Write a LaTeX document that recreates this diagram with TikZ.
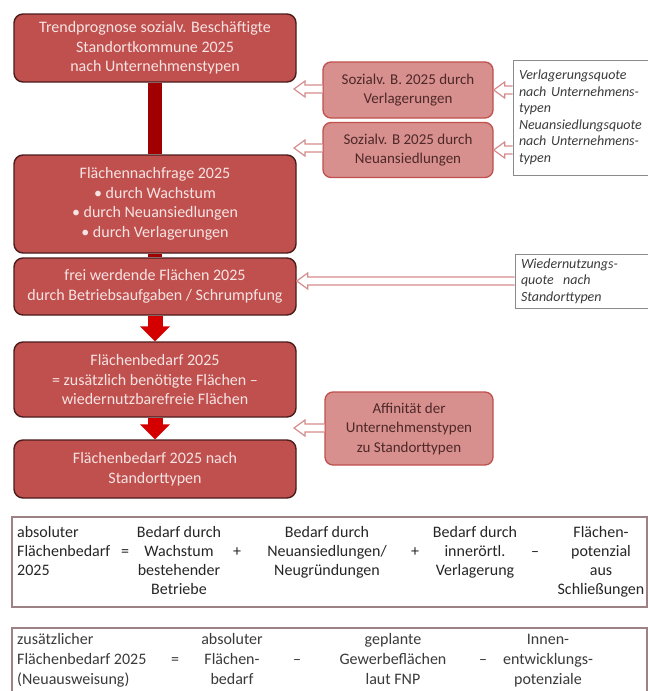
\documentclass[tikz,border=0pt]{standalone}
\usepackage{fontspec}
\setmainfont{Carlito}
\usetikzlibrary{arrows.meta,calc}
\definecolor{boxred}{HTML}{C0504D}
\definecolor{boxedge}{HTML}{4A1C1C}
\definecolor{boxtext}{HTML}{F6E4E4}
\definecolor{barred}{HTML}{A00000}
\definecolor{arrred}{HTML}{D40000}
\definecolor{sidefill}{HTML}{D7908E}
\definecolor{sideedge}{HTML}{C0504D}
\definecolor{sidetext}{HTML}{4E2828}
\definecolor{hollowc}{HTML}{D68C8C}
\definecolor{notegray}{HTML}{8A8A8A}
\definecolor{notetext}{HTML}{3C3C3C}
\definecolor{formedge}{HTML}{9C8284}
\definecolor{ftextc}{HTML}{262626}
\definecolor{ftextd}{HTML}{3A3A3A}
\newcommand\hollowarrow[2]{%
  \draw[hollowarr] let \p1=(#1), \p2=(#2) in
    (\x1,\y2+4pt) -- (\x2+11pt,\y2+4pt) -- (\x2+11pt,\y2+8pt) -- (\x2,\y2)
    -- (\x2+11pt,\y2-8pt) -- (\x2+11pt,\y2-4pt) -- (\x1,\y2-4pt);}
\begin{document}
\begin{tikzpicture}[x=1pt,y=-1pt,
  mainbox/.style={draw=boxedge, line width=1.4pt, fill=boxred, rounded corners=9pt,
    text=boxtext, align=center, minimum width=282pt, inner xsep=2pt,
    font=\fontsize{16}{19.5}\selectfont},
  sidebox/.style={draw=sideedge, line width=1.3pt, fill=sidefill, rounded corners=8pt,
    text=sidetext, align=center, minimum width=170pt, inner xsep=2pt,
    font=\fontsize{15}{19.5}\selectfont},
  notebox/.style={draw=notegray, line width=0.9pt, fill=white, text=notetext,
    align=left, inner xsep=6pt, font=\fontsize{14}{16.5}\selectfont\itshape},
  bar/.style={draw=barred, line width=14pt},
  redarrow/.style={draw=arrred, line width=15pt, -{Triangle[width=29pt,length=15pt]}},
  hollowarr/.style={draw=hollowc, fill=white, line width=1.2pt, line join=miter},
  formbox/.style={draw=formedge, line width=1.2pt, fill=white, inner sep=0pt},
  fA/.style={font=\fontsize{16}{19}\selectfont, text=ftextc, inner sep=0pt, align=center, anchor=north},
  fAl/.style={fA, align=left, anchor=north west},
  fAop/.style={font=\fontsize{16}{19}\selectfont, text=ftextc, inner sep=0pt, anchor=base},
  fB/.style={font=\fontsize{16}{20}\selectfont, text=ftextd, inner sep=0pt, align=center, anchor=north},
  fBl/.style={fB, align=left, anchor=north west},
  fBop/.style={font=\fontsize{16}{20}\selectfont, text=ftextd, inner sep=0pt, anchor=base}
]
\fill[white] (0,0) rectangle (648,691);
\useasboundingbox (0,0) rectangle (648,691);

% main column
\node[mainbox, minimum height=68pt] (box1) at (155,48)
  {Trendprognose sozialv. Beschäftigte\\Standortkommune 2025\\nach Unternehmenstypen};
\node[mainbox, minimum height=98pt] (box2) at (155,204)
  {Flächennachfrage 2025\\• durch Wachstum\\• durch Neuansiedlungen\\• durch Verlagerungen};
\node[mainbox, minimum height=57pt] (box3) at (155,286.5)
  {frei werdende Flächen 2025\\durch Betriebsaufgaben / Schrumpfung};
\node[mainbox, minimum height=75pt] (box4) at (155,379.5)
  {Flächenbedarf 2025\\= zusätzlich benötigte Flächen –\\wiedernutzbarefreie Flächen};
\node[mainbox, minimum height=58pt] (box5) at (155,469)
  {Flächenbedarf 2025 nach\\Standorttypen};

% side boxes
\node[sidebox, minimum height=56pt] (rbox1) at (408,90)
  {Sozialv. B. 2025 durch\\Verlagerungen};
\node[sidebox, minimum height=55pt] (rbox2) at (408,150)
  {Sozialv. B 2025 durch\\Neuansiedlungen};
\node[sidebox, minimum height=73pt, minimum width=168pt] (affin) at (409,428.5)
  {Affinität der\\Unternehmenstypen\\zu Standorttypen};

% notes
\node[notebox, text width=127pt, minimum height=115pt] (note1) at (582.5,117.5)
  {Verlagerungsquote\\nach Unternehmens-\\typen\\Neuansiedlungsquote\\nach Unternehmens-\\typen};
\node[notebox, text width=125pt, minimum height=54pt] (note2) at (583.5,281)
  {Wiedernutzungs-\\quote\ \ nach\\Standorttypen};

% free ends of hollow arrows
\coordinate (t1) at (294,89);
\coordinate (t2) at (294,148);
\coordinate (t3) at (294,428);

% connectors in main column
\draw[bar] (box1.south) -- (box2.north);
\draw[bar] (box2.south) -- (box3.north);
\draw[redarrow] (box3.south) -- (box4.north);
\draw[redarrow] (box4.south) -- (box5.north);

% hollow arrows
\hollowarrow{rbox1.west}{t1}
\hollowarrow{rbox2.west}{t2}
\hollowarrow{note1.west |- rbox1.east}{rbox1.east}
\hollowarrow{note1.west |- rbox2.east}{rbox2.east}
\hollowarrow{note2.west}{box3.east |- note2.west}
\hollowarrow{affin.west}{t3}

% formula 1
\node[formbox, minimum width=635pt, minimum height=90pt] (form1) at (329.5,562) {};
\node[fAl] (f1a) at (17,523.7) {\strut absoluter\\Flächenbedarf\\2025};
\node[fAop] (f1eq) at (125,556) {=};
\node[fA] (f1b) at (179,523.7) {\strut Bedarf durch\\Wachstum\\bestehender\\Betriebe};
\node[fAop] (f1p1) at (237,556) {+};
\node[fA] (f1c) at (327,523.7) {\strut Bedarf durch\\Neuansiedlungen/\\Neugründungen};
\node[fAop] (f1p2) at (415,556) {+};
\node[fA] (f1d) at (475,523.7) {\strut Bedarf durch\\innerörtl.\\Verlagerung};
\node[fAop] (f1m) at (535,556) {–};
\node[fA] (f1e) at (601,523.7) {\strut Flächen-\\potenzial\\aus\\Schließungen};

% formula 2
\node[formbox, minimum width=635pt, minimum height=74pt] (form2) at (329.5,665) {};
\node[fBl] (f2a) at (17,630) {\strut zusätzlicher\\Flächenbedarf 2025\\(Neuausweisung)};
\node[fBop] (f2eq) at (175,664) {=};
\node[fB] (f2b) at (232,630) {\strut absoluter\\Flächen-\\bedarf};
\node[fBop] (f2m1) at (297,664) {–};
\node[fB] (f2c) at (393,630) {\strut geplante\\Gewerbeflächen\\laut FNP};
\node[fBop] (f2m2) at (483,664) {–};
\node[fB] (f2d) at (548,630) {\strut Innen-\\entwicklungs-\\potenziale};
\end{tikzpicture}
\end{document}
